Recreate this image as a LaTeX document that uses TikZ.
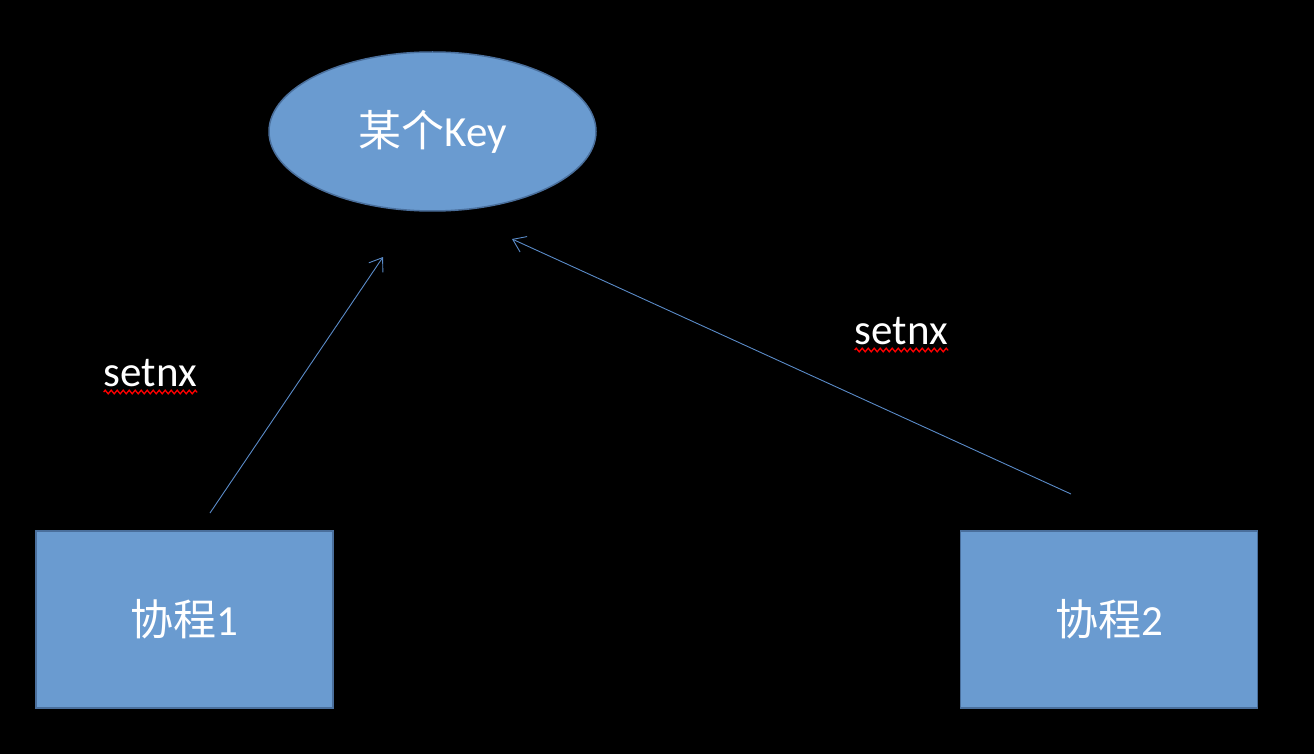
\documentclass[tikz,border=0pt]{standalone}
\usepackage{fontspec}
\setmainfont{Carlito}[Numbers=Lining]
\newfontfamily\cjk{Noto Sans CJK SC}
\usetikzlibrary{shapes.geometric, arrows.meta, decorations.pathmorphing}

\definecolor{boxfill}{HTML}{6A9BD0}
\definecolor{boxline}{HTML}{4A6F9C}
\definecolor{arrowline}{HTML}{5A8BC8}

\tikzset{
  keynode/.style={ellipse, draw=boxline, fill=boxfill, line width=1.5pt, inner sep=0pt,
    minimum width=327pt, minimum height=159pt, text=white, font=\fontsize{43}{48}\selectfont},
  corobox/.style={rectangle, draw=boxline, fill=boxfill, line width=1.5pt, inner sep=0pt,
    minimum width=297pt, minimum height=177pt, text=white, font=\fontsize{43}{48}\selectfont},
  cmdlabel/.style={text=white, inner sep=0pt, anchor=base, font=\fontsize{43}{48}\selectfont},
  spellwave/.style={draw=red, line width=1.3pt, decorate,
    decoration={zigzag, amplitude=1.8pt, segment length=6pt}}
}

\begin{document}
\begin{tikzpicture}[x=1pt, y=-1pt, >={Straight Barb[length=12pt, width=17pt]}]
  \fill [black] (0,0) rectangle (1314,754);
  \node [keynode] (key) at (432.5,131.5) {{\cjk 某个}Key};
  \node [corobox] (co1) at (184.5,619.5) {{\cjk 协程}1};
  \node [corobox] (co2) at (1109,619.5) {{\cjk 协程}2};
  \coordinate (s1) at (210,513);
  \coordinate (e1) at (383,257);
  \coordinate (s2) at (1071,494);
  \coordinate (e2) at (512,239);
  \draw [arrowline, line width=0.9pt, ->] (s1) -- (e1);
  \draw [arrowline, line width=0.9pt, ->] (s2) -- (e2);
  \node [cmdlabel] (lab1) at (150.5,386) {setnx};
  \node [cmdlabel] (lab2) at (901.5,344) {setnx};
  \draw [spellwave] ([yshift=-6pt]lab1.base west) -- ([yshift=-6pt]lab1.base east);
  \draw [spellwave] ([yshift=-6pt]lab2.base west) -- ([yshift=-6pt]lab2.base east);
\end{tikzpicture}
\end{document}
